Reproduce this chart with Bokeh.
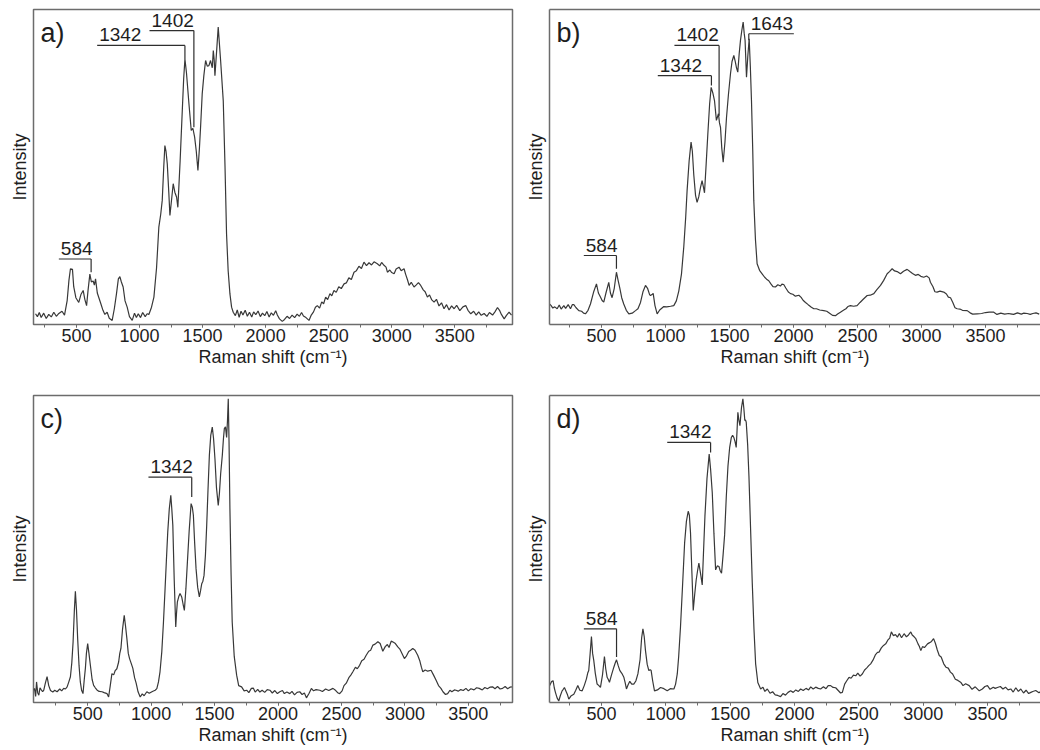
from bokeh.plotting import figure
from bokeh.layouts import column, row
from bokeh.models import Range1d, Label, LinearAxis, SingleIntervalTicker, FixedTicker, ColumnDataSource
from bokeh.core.properties import value
from bokeh.embed import file_html
from bokeh.resources import INLINE

FONT = "Liberation Sans"

# ---------------- data (Raman shift in cm-1, intensity in % of panel height) ----------------
a_shift = [175,190,205,220,240,260,280,300,320,340,360,385,405,426,440,452,468,478,495,518,535,553,566,580,592,606,618,632,642,651,665,690,710,725,743,760,783,800,817,832,844,856,870,885,902,920,942,960,975,990,1008,1025,1045,1060,1074,1095,1114,1135,1153,1168,1180,1192,1201,1210,1220,1232,1241,1255,1267,1280,1294,1304,1322,1339,1350,1360,1372,1392,1410,1423,1437,1450,1463,1475,1484,1497,1510,1524,1537,1550,1563,1577,1585,1592,1598,1610,1624,1643,1664,1678,1690,1703,1717,1730,1743,1760,1775,1790,1805,1820,1838,1855,1872,1890,1905,1922,1940,1958,1975,1993,2010,2028,2045,2062,2080,2093,2110,2132,2150,2170,2190,2210,2230,2250,2268,2285,2300,2320,2344,2362,2380,2395,2410,2428,2445,2460,2476,2492,2510,2525,2542,2560,2580,2600,2622,2640,2660,2680,2701,2720,2740,2760,2780,2800,2820,2840,2860,2886,2905,2920,2939,2955,2966,2985,3000,3019,3035,3058,3075,3098,3110,3125,3138,3155,3177,3195,3212,3230,3250,3265,3283,3300,3318,3336,3355,3375,3395,3415,3435,3455,3475,3495,3515,3540,3565,3587,3605,3627,3650,3670,3690,3710,3733,3755,3775,3800,3820,3839,3855,3870,3892,3910,3931,3950]
a_int = [3.4,2.5,3.8,2.2,3.6,1.9,3.2,2.4,3.9,2.6,3.5,4.2,3.0,7.6,14,17.7,17.5,12,8.5,7.0,9.5,10.8,8,6.0,11,16.0,13.5,13.8,12.5,14.5,10,7.0,4.5,3.2,3.9,2.0,1.3,5,9.7,14.5,15.2,13.5,11.9,7.5,5.5,2.5,1.3,3.6,2.2,3.4,2.2,3.8,2.5,3.4,3.2,5.5,8.7,18,30.9,35,39.4,50,56.8,55,51,42,34.6,40,44.7,42,40.4,37.2,52,67.9,78,84.3,80,70,61.6,62.3,59.5,55,48.9,56,62.6,73.2,79,83.8,82,82.2,83.8,81.5,87,84,79,86,94.4,83.8,71,50,28.8,17,9.7,5.5,3.9,2.8,4.6,2.3,4.2,3.0,4.5,2.6,3.9,2.4,4.0,3.1,4.3,2.5,3.6,2.8,4.1,2.4,3.7,2.9,4.4,3.0,1.8,1.0,1.6,2.6,1.9,3.0,2.2,3.3,2.6,3.8,2.7,2.2,1.3,3.0,4.0,5.5,6.0,5.2,7.2,6.6,8.7,7.9,9.8,9.1,10.8,10.2,12.0,11.4,12.9,13.2,14.8,14.3,16.6,17.1,18.5,17.8,19.8,18.7,19.6,18.9,19.9,19.3,18.6,19.7,18.8,18.2,16.6,17.3,16.5,16.1,17.6,18.2,17.1,17.7,16.0,14.2,12.4,13.4,11.9,12.6,13.3,12.4,11.0,10.4,8.7,9.4,7.8,7.1,8.0,5.9,6.9,5.0,6.3,4.6,5.9,5.0,6.1,4.4,5.6,6.0,4.5,3.4,4.2,3.0,4.0,2.9,3.5,2.6,3.8,3.0,4.1,5.4,4.5,3.2,1.8,2.9,3.9,3.0]

b_shift = [96,107,120,135,154,170,185,206,220,240,258,272,284,300,323,345,360,375,395,414,440,461,476,492,505,518,535,557,570,583,600,617,630,643,658,674,694,714,740,766,785,805,825,844,860,876,883,895,904,918,935,955,987,1010,1040,1065,1085,1104,1125,1143,1158,1169,1185,1200,1210,1221,1235,1247,1260,1273,1286,1297,1305,1318,1331,1345,1357,1370,1383,1398,1414,1422,1430,1440,1451,1465,1477,1492,1508,1520,1534,1545,1555,1565,1576,1586,1597,1607,1615,1622,1633,1643,1654,1663,1672,1682,1690,1703,1716,1735,1755,1775,1790,1807,1825,1840,1859,1878,1898,1910,1924,1940,1960,1977,1995,2015,2042,2060,2075,2094,2115,2140,2159,2180,2205,2237,2260,2285,2305,2328,2345,2367,2390,2410,2425,2445,2470,2497,2520,2545,2576,2600,2628,2650,2680,2705,2732,2750,2771,2790,2810,2836,2860,2888,2910,2930,2953,2975,2995,3018,3040,3060,3070,3090,3105,3122,3145,3174,3195,3210,3227,3245,3262,3279,3300,3320,3357,3380,3400,3435,3470,3500,3530,3565,3590,3620,3650,3680,3695,3720,3750,3780,3800,3826,3850,3870,3895,3920]
b_int = [6.5,6.0,5.2,5.6,5.0,6.2,4.9,6.0,5.1,6.3,5.0,6.3,6.3,5.4,4.4,4.2,3.6,3.4,4.5,6.5,10.5,12.9,10,8.7,7.6,7.1,10,13.4,10,8.5,11.5,16.6,14,11.6,8.5,6.5,4.5,3.4,3.6,4.4,5.0,7.0,10.5,12.4,11.5,9.5,9.2,9.5,9.9,6,3.4,4.6,5.7,5.6,5.8,6.0,7.5,10.6,16,24.6,34,42.5,52,57.9,55,47.6,41,38.8,40.5,43.4,45.7,43.5,41.8,51,60.5,70,75.3,73.5,71.1,64.8,66.9,64,62.6,56,51.5,58,65.8,73,79.6,83.5,85.4,83.5,81.5,80.1,86,90.2,93.5,96,92.5,90.2,78.5,85,90.7,82,71.1,55,39.4,27,19.3,17.2,16.1,15.0,14.4,13.9,12.8,12.0,11.9,12.6,12.2,12.8,12.7,11.6,10.3,9.8,9.6,9.0,9.3,8.6,7.7,7.0,6.3,5.5,5.0,5.0,4.6,4.4,4.2,3.5,2.9,2.8,3.3,3.9,4.5,5.0,5.7,6.0,5.8,6.0,7.0,8.0,9.2,9.3,9.8,11,12.4,14.0,16.1,16.8,17.7,17.0,16.8,16.1,16.9,17.5,16.8,16.2,15.6,15.9,15.3,15.0,15.4,14.8,13.4,12.0,10.4,10.3,10.6,10.3,9.7,8.7,8.5,7.0,5.3,5.0,4.9,4.5,4.4,3.7,3.3,3.4,3.5,3.8,3.9,3.9,3.2,3.6,3.3,3.5,3.4,3.2,3.7,3.3,3.6,3.5,3.2,3.5,3.7,3.3]

c_shift = [75,81,90,97,106,115,124,133,145,154,166,180,193,207,225,240,259,280,295,311,325,338,352,364,375,385,395,403,412,421,432,442,452,463,472,482,490,500,510,521,535,547,560,573,590,613,630,652,665,678,691,705,717,730,744,753,762,775,788,798,809,820,830,845,856,870,882,897,914,930,945,966,985,1010,1032,1045,1058,1070,1084,1097,1110,1120,1131,1143,1155,1163,1171,1182,1194,1200,1207,1218,1228,1241,1252,1262,1274,1286,1300,1315,1325,1333,1343,1354,1367,1380,1390,1399,1408,1417,1428,1438,1448,1459,1470,1482,1492,1503,1515,1529,1538,1548,1561,1570,1577,1586,1595,1602,1608,1614,1621,1630,1639,1655,1674,1690,1713,1733,1753,1770,1790,1805,1820,1840,1857,1875,1895,1915,1936,1955,1975,1995,2014,2035,2050,2070,2093,2110,2130,2150,2171,2190,2208,2224,2245,2263,2280,2300,2329,2350,2375,2400,2433,2455,2470,2486,2505,2520,2538,2560,2575,2590,2610,2625,2643,2660,2678,2695,2715,2730,2748,2765,2787,2805,2826,2845,2862,2875,2892,2910,2925,2944,2960,2978,2996,3010,3030,3045,3062,3080,3101,3118,3130,3141,3160,3180,3206,3225,3245,3265,3284,3300,3320,3337,3355,3370,3390,3403,3420,3440,3460,3481,3500,3520,3545,3565,3586,3610,3630,3650,3670,3691,3710,3730,3750,3770,3790,3810,3828,3843]
c_int = [4.0,4.6,2.0,6.7,3.2,2.4,4.8,4.2,3.5,4.0,6.2,8.4,5.5,3.9,3.4,4.0,3.5,4.4,3.8,4.6,4.4,5.1,6.8,8.4,13,19.7,30,36.2,30,20.8,12,6.7,4.0,2.9,7,11.2,16,19.2,16,12.2,7.5,5.6,4.8,4.1,3.6,3.5,3.2,2.9,1.8,5.5,9.4,9.0,10.4,11,13.2,16,17.6,24,28.4,25,20.8,16,14.3,12.5,11.1,8,6.3,3.5,1.8,2.8,2.2,3.5,3.0,3.6,4.0,4.5,6.7,10,16.5,26,37.1,46,55.5,63,67.5,63,57.7,40,24.6,29,32.8,34.5,35.5,34.4,32,30,37,45.8,56,64.8,63.5,61,52,43.6,37.5,34.4,36.5,38.7,39.5,41.4,48,57.7,69,80.5,87,89.7,86,79.4,70,64.2,68,74.5,80.5,86,89.2,89.8,86.3,92,98.9,85,63.1,42,26.2,15,8.9,5.5,5.1,3.8,4.0,3.2,4.6,4.7,3.4,4.3,3.4,4.0,3.3,4.2,4.0,3.1,3.9,2.9,3.5,3.9,2.9,3.4,2.9,3.6,2.5,3.3,3.5,2.6,3.1,1.5,3.0,4.6,3.8,4.2,4.0,3.6,4.4,3.9,4.6,3.9,3.2,2.9,3.8,5.5,6.3,8.2,9.0,10,11.5,11.0,12.1,13.6,14.1,15.4,16.7,17.0,18.7,19.0,19.8,19.2,16.7,18.2,18.9,17.9,20.0,19.6,19.2,18.1,17.4,15.9,14.3,15.0,16.6,17.0,17.6,17.0,15.4,13.5,11.5,10,10.6,10.2,10.5,9.0,7.3,5.5,4.6,3.5,2.6,2.9,4.0,3.5,4.1,4.0,3.7,4.2,3.9,4.6,3.8,4.5,4.1,4.8,4.6,4.1,4.9,4.5,5.0,5.1,4.5,5.2,4.4,4.6,5.2,4.5,5.0,5.1]

d_shift = [98,103,112,124,133,142,155,168,180,194,203,212,225,236,246,262,285,300,316,332,350,366,383,393,401,412,422,431,440,452,466,480,492,508,523,533,544,553,562,578,596,606,617,630,643,658,674,684,694,707,720,735,751,767,783,800,812,822,832,842,855,868,878,886,898,912,935,959,985,1011,1035,1063,1076,1089,1100,1114,1130,1146,1160,1174,1183,1192,1203,1213,1224,1236,1247,1257,1270,1283,1293,1304,1320,1337,1348,1361,1374,1387,1400,1413,1422,1433,1445,1457,1470,1483,1496,1509,1519,1529,1538,1547,1553,1560,1568,1576,1588,1599,1606,1614,1620,1625,1636,1646,1660,1672,1685,1698,1715,1737,1755,1770,1789,1810,1830,1850,1870,1892,1910,1930,1950,1970,1990,2010,2030,2048,2068,2090,2110,2126,2145,2165,2185,2203,2225,2245,2262,2281,2300,2320,2340,2358,2372,2390,2405,2424,2440,2458,2476,2492,2510,2527,2545,2562,2577,2592,2610,2630,2645,2657,2675,2692,2709,2725,2740,2753,2768,2785,2800,2815,2832,2852,2870,2886,2904,2915,2930,2943,2960,2970,2982,2995,3010,3034,3050,3065,3081,3095,3110,3125,3140,3160,3177,3195,3212,3229,3250,3270,3294,3310,3330,3358,3380,3405,3436,3460,3480,3500,3520,3545,3560,3577,3600,3620,3640,3660,3681,3700,3720,3740,3759,3780,3800,3820,3837,3852,3875,3900,3915]
d_int = [5.5,6.0,6.8,7.1,4.8,3.3,1.5,0.5,2.2,3.8,4.3,4.9,3.6,2.5,1.1,2.1,2.7,4.0,5.5,4.0,3.8,5.5,7.7,9.6,10.4,16,21.5,16,13.7,9.5,6.0,5.5,4.9,9,15,11,8.2,7.5,6.6,9,11.5,12.8,13.9,12,10.4,9.5,8.2,6.5,4.4,5.8,6.9,6.0,6.0,7.0,9.3,14,21,24,21.5,16.9,12.5,10.4,10.7,10.4,7,3.8,4.1,4.9,4.5,3.8,4.5,4.4,6,9.3,15,24.6,38,51.9,59,62.3,61,55.2,42,30,35,39.9,43,45.4,42,38.3,49,60.7,73,80.9,76,68.3,55,43.2,44.5,44.3,43,42.1,48,54.6,67,77,83,86.3,87,86.3,85,83.1,88,94.5,92,90.2,96,98.9,96,91.9,92,91.3,84,73.8,55,38.8,24,12.6,6.5,4.4,5.0,3.6,4.4,3.0,3.5,2.5,2.3,1.9,2.9,2.4,3.3,3.8,3.3,4.1,3.6,4.4,3.9,4.6,4.1,5.1,4.4,5.0,4.6,4.4,5.1,4.5,5.5,5.5,4.9,4.8,3.9,3.1,3.3,6.0,7.0,8.2,7.9,8.9,8.7,9.6,8.6,9.3,10.6,11.3,12.0,12.6,13.8,15.6,16.3,16.4,17.8,18.6,19.1,20.3,21.0,23.0,21.8,22.1,21.3,22.5,21.1,22.4,21.4,22.0,23.0,22.0,21.4,20.8,19.1,18.3,16.9,18.2,17.9,19.1,19.5,19.9,20.8,19.3,17.1,15.3,14.8,12.6,11.5,11.2,9.9,9.3,7.6,7.2,6.5,5.5,6.1,5.5,4.3,5.1,3.8,4.4,5.2,5.5,4.3,5.0,4.6,4.9,5.2,4.4,5.0,4.1,4.4,3.4,4.8,3.6,4.4,3.1,4.0,2.9,3.3,3.6,3.9,3.2,3.6]

# peak annotations: label, bar start x, bar end x, marker x, bar y, marker end y
a_ann_text = ["584", "1342", "1402"]
a_ann_x0 = [360, 664, 1079]
a_ann_x1 = [616, 1360, 1431]
a_ann_vx = [616, 1360, 1431]
a_ann_y = [20.8, 88.6, 93.3]
a_ann_yend = [16.6, 84.3, 62.6]

b_ann_text = ["584", "1342", "1402", "1643"]
b_ann_x0 = [362, 940, 1070, 1651]
b_ann_x1 = [617, 1359, 1419, 2003]
b_ann_vx = [617, 1359, 1419, 1651]
b_ann_y = [21.9, 79.0, 88.6, 92.3]
b_ann_yend = [17.7, 75.9, 66.3, 90.2]

c_ann_text = ["1342"]
c_ann_x0 = [979]
c_ann_x1 = [1320]
c_ann_vx = [1320]
c_ann_y = [73.4]
c_ann_yend = [66.9]

d_ann_text = ["584", "1342"]
d_ann_x0 = [363, 1011]
d_ann_x1 = [617, 1348]
d_ann_vx = [617, 1348]
d_ann_y = [24.0, 84.7]
d_ann_yend = [14.8, 81.4]

panel_labels = ["a)", "b)", "c)", "d)"]
x_label = "Raman shift (cm\u207b\u00b9)"
y_label = "Intensity"

LINE = "#383838"
FRAME = "#6c6c6c"
TXT = "#1e1e1e"


def make_panel(xs, ys, xr, ann, plabel, width, height, bl, br, bt, bb, cut_right):
    p = figure(width=width, height=height, x_range=Range1d(*xr), y_range=Range1d(0, 100),
               output_backend="svg", toolbar_location=None,
               min_border_left=bl, min_border_right=br, min_border_top=bt, min_border_bottom=bb)
    p.xgrid.visible = False
    p.ygrid.visible = False
    p.background_fill_color = "white"
    p.border_fill_color = "white"

    p.line(xs, ys, line_color=LINE, line_width=1.2)

    text, x0, x1, vx, y, yend = ann
    xsl = [[a, b] for a, b in zip(x0, x1)] + [[v, v] for v in vx]
    ysl = [[yy, yy] for yy in y] + [[yy, ye] for yy, ye in zip(y, yend)]
    p.multi_line(xsl, ysl, line_color="#2e2e2e", line_width=1.2)
    src = ColumnDataSource(dict(x=x0, y=y, t=text))
    p.text(x="x", y="y", text="t", source=src, x_offset=2, y_offset=-4,
           text_font=value(FONT), text_font_size="19px", text_color=TXT,
           text_baseline="bottom", text_align="left")

    p.add_layout(Label(x=xr[0], y=100, x_offset=7, y_offset=-8, text=plabel,
                       text_font=FONT, text_font_size="27px", text_color=TXT,
                       text_baseline="top"))

    # x axis
    xa = p.xaxis[0]
    xa.ticker = SingleIntervalTicker(interval=500, num_minor_ticks=2)
    xa.axis_label = x_label
    xa.axis_label_text_font = FONT
    xa.axis_label_text_font_size = "18px"
    xa.axis_label_text_font_style = "normal"
    xa.axis_label_text_color = TXT
    xa.axis_label_standoff = 2
    xa.major_label_text_font = FONT
    xa.major_label_text_font_size = "18px"
    xa.major_label_text_color = TXT
    xa.major_label_standoff = 1
    xa.major_tick_in = 0
    xa.major_tick_out = 3
    xa.minor_tick_in = 0
    xa.minor_tick_out = 3
    xa.major_tick_line_color = FRAME
    xa.minor_tick_line_color = FRAME

    ya = p.yaxis[0]
    ya.ticker = FixedTicker(ticks=[])
    ya.axis_label = y_label
    ya.axis_label_text_font = FONT
    ya.axis_label_text_font_size = "18px"
    ya.axis_label_text_font_style = "normal"
    ya.axis_label_text_color = TXT
    ya.axis_label_standoff = 4
    ya.major_tick_out = 0
    ya.minor_tick_out = 0
    ya.major_label_standoff = 0

    if cut_right:
        p.outline_line_color = None
        for ax in (xa, ya):
            ax.axis_line_color = FRAME
            ax.axis_line_width = 1.5
        top = LinearAxis(ticker=FixedTicker(ticks=[]), major_tick_out=0, minor_tick_out=0,
                         major_label_standoff=0, axis_line_color=FRAME, axis_line_width=1.5)
        p.add_layout(top, "above")
    else:
        p.outline_line_color = FRAME
        p.outline_line_width = 1.5
        p.outline_line_alpha = 1.0
        xa.axis_line_color = None
        ya.axis_line_color = None
    return p


pa = make_panel(a_shift, a_int, (159, 3958),
                (a_ann_text, a_ann_x0, a_ann_x1, a_ann_vx, a_ann_y, a_ann_yend),
                panel_labels[0], 522, 393, 33, 10, 9, 69, False)
pb = make_panel(b_shift, b_int, (94, 3930),
                (b_ann_text, b_ann_x0, b_ann_x1, b_ann_vx, b_ann_y, b_ann_yend),
                panel_labels[1], 518, 393, 27, 0, 9, 69, True)
pc = make_panel(c_shift, c_int, (73, 3848),
                (c_ann_text, c_ann_x0, c_ann_x1, c_ann_vx, c_ann_y, c_ann_yend),
                panel_labels[2], 522, 357, 33, 10, 2, 48, False)
pd = make_panel(d_shift, d_int, (96, 3912),
                (d_ann_text, d_ann_x0, d_ann_x1, d_ann_vx, d_ann_y, d_ann_yend),
                panel_labels[3], 518, 357, 27, 0, 2, 48, True)

layout = column(row(pa, pb), row(pc, pd))
open("out.html", "w").write(file_html(layout, INLINE))
